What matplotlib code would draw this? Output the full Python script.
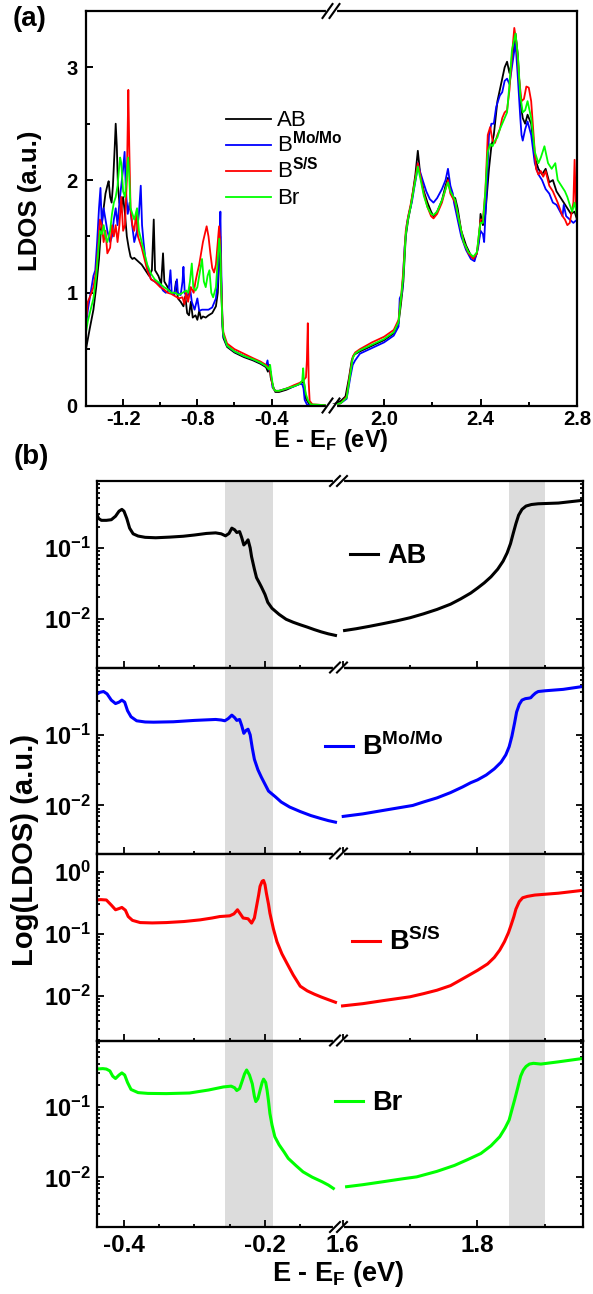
import numpy as np
import matplotlib
matplotlib.use('Agg')
import matplotlib.pyplot as plt
from matplotlib.lines import Line2D
from matplotlib.ticker import FixedLocator, FuncFormatter, NullFormatter, LogLocator

plt.rcParams['font.family'] = ['Liberation Sans', 'DejaVu Sans']
plt.rcParams['font.weight'] = 'bold'
plt.rcParams['mathtext.fontset'] = 'custom'
plt.rcParams['mathtext.rm'] = 'Liberation Sans'
plt.rcParams['mathtext.bf'] = 'Liberation Sans:bold'
plt.rcParams['mathtext.default'] = 'bf'

# ---------------- panel (a): LDOS, linear scale ----------------
ab_a = [(-1.40, 0.50), (-1.38, 0.68), (-1.36, 0.85), (-1.345, 1.05), (-1.33, 1.30), (-1.32, 1.55),
        (-1.305, 1.75), (-1.295, 1.88), (-1.285, 1.95), (-1.278, 1.99), (-1.27, 1.85), (-1.262, 1.80),
        (-1.255, 1.95), (-1.245, 2.30), (-1.24, 2.50), (-1.234, 2.30), (-1.228, 1.95), (-1.22, 1.80),
        (-1.21, 1.75), (-1.20, 1.85), (-1.19, 1.70), (-1.18, 1.50), (-1.17, 1.40), (-1.16, 1.32),
        (-1.15, 1.30), (-1.14, 1.31), (-1.12, 1.28), (-1.10, 1.25), (-1.08, 1.20), (-1.06, 1.15),
        (-1.045, 1.20), (-1.035, 1.65), (-1.028, 1.20), (-1.01, 1.15), (-0.995, 1.08), (-0.985, 1.35),
        (-0.978, 1.10), (-0.96, 1.05), (-0.94, 1.00), (-0.925, 0.98), (-0.915, 1.10), (-0.905, 0.95),
        (-0.89, 0.92), (-0.875, 0.88), (-0.865, 0.97), (-0.855, 0.82), (-0.845, 0.80), (-0.835, 0.92),
        (-0.825, 0.78), (-0.81, 0.80), (-0.80, 0.76), (-0.79, 0.84), (-0.78, 0.77), (-0.77, 0.79),
        (-0.755, 0.78), (-0.74, 0.80), (-0.72, 0.82), (-0.70, 0.88), (-0.69, 1.00), (-0.682, 1.30),
        (-0.677, 1.50), (-0.67, 1.00), (-0.665, 0.70), (-0.66, 0.60), (-0.64, 0.52), (-0.60, 0.47),
        (-0.55, 0.43), (-0.50, 0.40), (-0.46, 0.37), (-0.43, 0.34), (-0.42, 0.30), (-0.412, 0.36),
        (-0.405, 0.25), (-0.39, 0.16), (-0.38, 0.12), (-0.36, 0.12), (-0.32, 0.14), (-0.28, 0.17),
        (-0.25, 0.19), (-0.235, 0.21), (-0.225, 0.20), (-0.215, 0.06), (-0.20, 0.02), (-0.18, 0.00),
        (-0.08, 0.00),
        (1.78, 0.00), (1.80, 0.02), (1.82, 0.04), (1.84, 0.08), (1.855, 0.25), (1.866, 0.40),
        (1.875, 0.45), (1.90, 0.48), (1.95, 0.53), (2.00, 0.58), (2.04, 0.64), (2.06, 0.73),
        (2.07, 0.90), (2.08, 1.10), (2.09, 1.50), (2.10, 1.65), (2.11, 1.76), (2.12, 1.90),
        (2.13, 2.05), (2.14, 2.26), (2.15, 2.05), (2.165, 1.90), (2.18, 1.80), (2.195, 1.72),
        (2.205, 1.68), (2.22, 1.72), (2.24, 1.82), (2.255, 1.95), (2.265, 2.02), (2.275, 1.90),
        (2.285, 1.85), (2.295, 1.84), (2.305, 1.75), (2.32, 1.55), (2.34, 1.42), (2.36, 1.33),
        (2.375, 1.30), (2.385, 1.35), (2.395, 1.50), (2.40, 1.70), (2.41, 1.60), (2.42, 1.70),
        (2.435, 2.10), (2.445, 2.30), (2.455, 2.40), (2.47, 2.70), (2.485, 2.85), (2.50, 3.00),
        (2.51, 3.05), (2.52, 2.95), (2.53, 3.05), (2.545, 3.30), (2.555, 3.10), (2.565, 2.70),
        (2.575, 2.55), (2.585, 2.50), (2.595, 2.58), (2.61, 2.50), (2.625, 2.20), (2.64, 2.10),
        (2.655, 2.05), (2.67, 2.10), (2.685, 1.98), (2.70, 2.00), (2.715, 1.90), (2.73, 1.85),
        (2.745, 1.80), (2.76, 1.75), (2.775, 1.70), (2.79, 1.72), (2.80, 1.65)]

bmo_a = [(-1.40, 0.70), (-1.39, 0.85), (-1.375, 1.00), (-1.36, 1.15), (-1.35, 1.20), (-1.34, 1.45),
         (-1.33, 1.75), (-1.322, 1.93), (-1.315, 1.60), (-1.305, 1.75), (-1.295, 1.65), (-1.285, 1.55),
         (-1.27, 1.45), (-1.26, 1.50), (-1.25, 1.65), (-1.24, 1.75), (-1.23, 1.60), (-1.22, 1.80),
         (-1.21, 1.95), (-1.20, 2.10), (-1.192, 2.25), (-1.185, 1.90), (-1.175, 1.70), (-1.165, 1.80),
         (-1.155, 1.65), (-1.14, 1.45), (-1.125, 1.55), (-1.115, 1.70), (-1.105, 1.95), (-1.098, 1.60),
         (-1.09, 1.45), (-1.08, 1.30), (-1.065, 1.20), (-1.05, 1.12), (-1.03, 1.10), (-1.01, 1.08),
         (-0.995, 1.05), (-0.985, 1.02), (-0.97, 1.00), (-0.955, 1.02), (-0.945, 1.20), (-0.938, 1.00),
         (-0.925, 0.98), (-0.91, 1.12), (-0.905, 1.00), (-0.89, 0.98), (-0.88, 1.10), (-0.875, 1.23),
         (-0.868, 1.00), (-0.855, 0.95), (-0.84, 1.05), (-0.83, 0.92), (-0.815, 0.85), (-0.80, 0.95),
         (-0.79, 0.84), (-0.775, 0.85), (-0.76, 0.85), (-0.74, 0.85), (-0.72, 0.87), (-0.70, 0.95),
         (-0.69, 1.10), (-0.682, 1.40), (-0.676, 1.72), (-0.67, 1.10), (-0.665, 0.75), (-0.66, 0.62),
         (-0.64, 0.53), (-0.60, 0.48), (-0.55, 0.44), (-0.50, 0.41), (-0.46, 0.38), (-0.43, 0.35),
         (-0.422, 0.40), (-0.415, 0.32), (-0.405, 0.30), (-0.395, 0.16), (-0.38, 0.13), (-0.36, 0.13),
         (-0.32, 0.15), (-0.28, 0.17), (-0.25, 0.19), (-0.235, 0.19), (-0.228, 0.15), (-0.222, 0.05),
         (-0.21, 0.01), (-0.19, 0.00), (-0.08, 0.00),
         (1.78, 0.00), (1.82, 0.02), (1.845, 0.06), (1.86, 0.25), (1.87, 0.36), (1.88, 0.40),
         (1.90, 0.46), (1.95, 0.51), (2.00, 0.56), (2.04, 0.62), (2.06, 0.70), (2.065, 0.95),
         (2.075, 1.00), (2.085, 1.40), (2.095, 1.62), (2.105, 1.72), (2.115, 1.80), (2.125, 1.93),
         (2.135, 2.05), (2.14, 2.15), (2.15, 2.07), (2.16, 2.00), (2.175, 1.90), (2.19, 1.83),
         (2.205, 1.80), (2.22, 1.84), (2.24, 1.92), (2.255, 2.00), (2.265, 2.10), (2.275, 1.95),
         (2.285, 1.88), (2.29, 1.80), (2.30, 1.70), (2.32, 1.50), (2.34, 1.38), (2.36, 1.30),
         (2.375, 1.28), (2.39, 1.40), (2.40, 1.55), (2.41, 1.52), (2.415, 1.45), (2.425, 1.90),
         (2.435, 2.40), (2.445, 2.50), (2.455, 2.50), (2.465, 2.65), (2.48, 2.75), (2.49, 2.78),
         (2.50, 2.88), (2.51, 2.90), (2.52, 2.85), (2.53, 3.00), (2.545, 3.22), (2.555, 2.90),
         (2.565, 2.55), (2.57, 2.40), (2.575, 2.35), (2.585, 2.45), (2.595, 2.52), (2.61, 2.40),
         (2.625, 2.15), (2.64, 2.05), (2.655, 2.00), (2.67, 1.92), (2.685, 1.88), (2.70, 1.80),
         (2.715, 1.78), (2.73, 1.72), (2.74, 1.68), (2.745, 1.78), (2.755, 1.68), (2.77, 1.65),
         (2.785, 1.62), (2.80, 1.65)]

bss_a = [(-1.40, 0.75), (-1.39, 0.92), (-1.375, 0.98), (-1.36, 1.05), (-1.345, 1.20), (-1.335, 1.40),
         (-1.325, 1.65), (-1.315, 1.60), (-1.305, 1.45), (-1.295, 1.55), (-1.285, 1.35), (-1.27, 1.40),
         (-1.26, 1.60), (-1.25, 1.50), (-1.24, 1.60), (-1.23, 1.45), (-1.22, 1.60), (-1.21, 1.85),
         (-1.20, 1.55), (-1.19, 1.60), (-1.18, 2.00), (-1.175, 2.50), (-1.172, 2.80), (-1.167, 2.30),
         (-1.16, 1.75), (-1.15, 1.60), (-1.14, 1.55), (-1.13, 1.70), (-1.12, 1.50), (-1.11, 1.45),
         (-1.10, 1.40), (-1.085, 1.30), (-1.07, 1.20), (-1.05, 1.12), (-1.03, 1.10), (-1.00, 1.05),
         (-0.98, 1.03), (-0.96, 1.00), (-0.94, 0.99), (-0.92, 0.97), (-0.90, 0.95), (-0.88, 0.96),
         (-0.87, 0.90), (-0.86, 1.00), (-0.85, 0.92), (-0.835, 1.05), (-0.82, 1.00), (-0.81, 1.10),
         (-0.80, 1.18), (-0.79, 1.25), (-0.78, 1.35), (-0.77, 1.45), (-0.76, 1.52), (-0.75, 1.59),
         (-0.74, 1.50), (-0.73, 1.35), (-0.72, 1.22), (-0.71, 1.18), (-0.70, 1.25), (-0.69, 1.45),
         (-0.683, 1.59), (-0.677, 1.45), (-0.67, 1.00), (-0.665, 0.78), (-0.66, 0.65), (-0.64, 0.55),
         (-0.60, 0.50), (-0.55, 0.46), (-0.50, 0.42), (-0.46, 0.39), (-0.43, 0.36), (-0.41, 0.33),
         (-0.40, 0.22), (-0.39, 0.15), (-0.38, 0.13), (-0.36, 0.13), (-0.32, 0.15), (-0.28, 0.18),
         (-0.25, 0.20), (-0.23, 0.22), (-0.215, 0.25), (-0.21, 0.40), (-0.205, 0.73), (-0.20, 0.20),
         (-0.195, 0.04), (-0.18, 0.01), (-0.08, 0.00),
         (1.78, 0.00), (1.82, 0.02), (1.845, 0.08), (1.86, 0.30), (1.87, 0.43), (1.88, 0.47),
         (1.90, 0.50), (1.95, 0.56), (2.00, 0.61), (2.04, 0.67), (2.06, 0.76), (2.07, 0.95),
         (2.08, 1.20), (2.09, 1.55), (2.10, 1.68), (2.11, 1.78), (2.12, 1.90), (2.13, 2.02),
         (2.14, 2.15), (2.15, 2.05), (2.165, 1.88), (2.18, 1.76), (2.195, 1.68), (2.205, 1.66),
         (2.22, 1.70), (2.24, 1.80), (2.255, 1.92), (2.265, 2.00), (2.275, 1.88), (2.285, 1.84),
         (2.295, 1.80), (2.31, 1.65), (2.33, 1.45), (2.35, 1.35), (2.37, 1.30), (2.385, 1.35),
         (2.395, 1.55), (2.40, 1.65), (2.41, 1.65), (2.42, 1.90), (2.43, 2.40), (2.44, 2.47),
         (2.45, 2.35), (2.46, 2.33), (2.47, 2.40), (2.48, 2.45), (2.49, 2.55), (2.50, 2.60),
         (2.51, 2.62), (2.52, 2.80), (2.53, 3.10), (2.54, 3.35), (2.55, 3.20), (2.56, 2.90),
         (2.57, 2.70), (2.58, 2.72), (2.59, 2.83), (2.60, 2.82), (2.61, 2.70), (2.62, 2.40),
         (2.63, 2.10), (2.64, 2.05), (2.65, 2.08), (2.66, 2.03), (2.67, 2.08), (2.685, 1.95),
         (2.70, 1.90), (2.72, 1.80), (2.74, 1.68), (2.75, 1.65), (2.76, 1.60), (2.77, 1.62),
         (2.785, 1.80), (2.79, 2.18), (2.795, 1.80), (2.80, 1.70)]

br_a = [(-1.40, 0.65), (-1.39, 0.75), (-1.375, 0.85), (-1.36, 0.95), (-1.345, 1.15), (-1.335, 1.35),
        (-1.325, 1.55), (-1.315, 1.52), (-1.305, 1.60), (-1.295, 1.50), (-1.285, 1.45), (-1.27, 1.55),
        (-1.26, 1.70), (-1.25, 1.80), (-1.24, 1.85), (-1.23, 1.95), (-1.222, 2.10), (-1.216, 2.20),
        (-1.21, 2.15), (-1.20, 1.90), (-1.19, 1.85), (-1.18, 2.05), (-1.173, 2.20), (-1.166, 2.00),
        (-1.16, 1.75), (-1.15, 1.70), (-1.14, 1.65), (-1.125, 1.75), (-1.115, 1.55), (-1.10, 1.45),
        (-1.085, 1.35), (-1.07, 1.25), (-1.05, 1.17), (-1.03, 1.12), (-1.00, 1.08), (-0.98, 1.05),
        (-0.96, 1.03), (-0.94, 1.00), (-0.92, 1.00), (-0.90, 0.98), (-0.88, 1.00), (-0.86, 1.02),
        (-0.85, 1.00), (-0.84, 1.10), (-0.83, 1.26), (-0.822, 1.05), (-0.81, 1.02), (-0.80, 1.05),
        (-0.79, 1.15), (-0.775, 1.30), (-0.765, 1.10), (-0.755, 1.05), (-0.745, 1.15), (-0.735, 1.20),
        (-0.725, 1.00), (-0.715, 0.96), (-0.70, 1.05), (-0.69, 1.30), (-0.682, 1.48), (-0.676, 1.35),
        (-0.67, 0.95), (-0.665, 0.75), (-0.66, 0.63), (-0.64, 0.53), (-0.60, 0.48), (-0.55, 0.44),
        (-0.50, 0.41), (-0.46, 0.38), (-0.43, 0.35), (-0.415, 0.32), (-0.408, 0.36), (-0.40, 0.25),
        (-0.39, 0.15), (-0.38, 0.13), (-0.36, 0.13), (-0.32, 0.15), (-0.28, 0.17), (-0.25, 0.19),
        (-0.235, 0.22), (-0.23, 0.33), (-0.225, 0.20), (-0.215, 0.10), (-0.205, 0.05), (-0.19, 0.01),
        (-0.08, 0.00),
        (1.78, 0.00), (1.82, 0.02), (1.845, 0.07), (1.86, 0.28), (1.87, 0.42), (1.88, 0.46),
        (1.90, 0.49), (1.95, 0.54), (2.00, 0.59), (2.04, 0.65), (2.06, 0.74), (2.07, 0.95),
        (2.08, 1.15), (2.09, 1.52), (2.10, 1.66), (2.11, 1.76), (2.12, 1.88), (2.13, 2.00),
        (2.14, 2.12), (2.15, 2.02), (2.165, 1.86), (2.18, 1.76), (2.195, 1.70), (2.205, 1.69),
        (2.22, 1.72), (2.24, 1.82), (2.255, 1.92), (2.265, 1.98), (2.275, 1.90), (2.285, 1.86),
        (2.295, 1.82), (2.31, 1.65), (2.33, 1.45), (2.35, 1.36), (2.37, 1.32), (2.385, 1.36),
        (2.395, 1.55), (2.40, 1.62), (2.41, 1.62), (2.42, 1.90), (2.43, 2.25), (2.44, 2.32),
        (2.45, 2.30), (2.46, 2.35), (2.47, 2.38), (2.48, 2.45), (2.49, 2.50), (2.50, 2.55),
        (2.51, 2.60), (2.52, 2.85), (2.53, 3.15), (2.545, 3.30), (2.555, 3.10), (2.565, 2.75),
        (2.575, 2.60), (2.585, 2.62), (2.595, 2.70), (2.61, 2.55), (2.625, 2.25), (2.64, 2.15),
        (2.65, 2.20), (2.665, 2.30), (2.68, 2.15), (2.695, 2.10), (2.71, 2.15), (2.72, 2.00),
        (2.735, 1.95), (2.75, 1.90), (2.76, 1.85), (2.77, 1.78), (2.78, 1.72), (2.79, 1.80),
        (2.80, 1.68)]

# ---------------- panel (b): LDOS near the gap, log scale ----------------
ab_b = [(-0.44, 0.32), (-0.436, 0.26), (-0.432, 0.245), (-0.425, 0.245), (-0.418, 0.25), (-0.412, 0.28),
        (-0.407, 0.33), (-0.403, 0.35), (-0.400, 0.33), (-0.396, 0.26), (-0.392, 0.19), (-0.387, 0.158),
        (-0.380, 0.147), (-0.370, 0.141), (-0.355, 0.139), (-0.335, 0.142), (-0.316, 0.146), (-0.30, 0.152),
        (-0.283, 0.160), (-0.27, 0.163), (-0.262, 0.158), (-0.256, 0.148), (-0.251, 0.160), (-0.247, 0.19),
        (-0.243, 0.18), (-0.240, 0.165), (-0.236, 0.17), (-0.233, 0.14), (-0.230, 0.11), (-0.227, 0.118),
        (-0.224, 0.13), (-0.221, 0.10), (-0.219, 0.075), (-0.215, 0.050), (-0.212, 0.038), (-0.208, 0.032),
        (-0.205, 0.028), (-0.200, 0.022), (-0.196, 0.017), (-0.19, 0.014), (-0.18, 0.0115), (-0.17, 0.0098),
        (-0.16, 0.0089), (-0.15, 0.0082), (-0.14, 0.0076), (-0.13, 0.0070), (-0.12, 0.0065), (-0.11, 0.0061),
        (-0.10, 0.0058),
        (1.603, 0.0068), (1.62, 0.0072), (1.64, 0.0078), (1.66, 0.0085), (1.68, 0.0093), (1.70, 0.0103),
        (1.72, 0.0117), (1.74, 0.0135), (1.76, 0.016), (1.775, 0.019), (1.79, 0.023), (1.80, 0.027),
        (1.81, 0.032), (1.82, 0.039), (1.83, 0.050), (1.838, 0.065), (1.844, 0.085), (1.849, 0.115),
        (1.853, 0.16), (1.857, 0.22), (1.861, 0.29), (1.866, 0.35), (1.872, 0.39), (1.88, 0.41),
        (1.89, 0.42), (1.92, 0.43), (1.956, 0.47)]

bmo_b = [(-0.44, 0.37), (-0.434, 0.40), (-0.429, 0.41), (-0.424, 0.38), (-0.418, 0.31), (-0.412, 0.277),
         (-0.407, 0.29), (-0.403, 0.31), (-0.399, 0.29), (-0.395, 0.22), (-0.39, 0.18), (-0.382, 0.158),
         (-0.37, 0.152), (-0.358, 0.151), (-0.33, 0.153), (-0.30, 0.16), (-0.27, 0.165), (-0.262, 0.162),
         (-0.257, 0.158), (-0.252, 0.17), (-0.247, 0.19), (-0.243, 0.175), (-0.240, 0.16), (-0.236, 0.165),
         (-0.233, 0.135), (-0.230, 0.105), (-0.227, 0.115), (-0.224, 0.12), (-0.221, 0.10), (-0.218, 0.065),
         (-0.215, 0.045), (-0.21, 0.032), (-0.205, 0.025), (-0.20, 0.020), (-0.195, 0.016), (-0.185, 0.0132),
         (-0.177, 0.0112), (-0.165, 0.0095), (-0.15, 0.0082), (-0.135, 0.0072), (-0.12, 0.0065),
         (-0.11, 0.0061), (-0.10, 0.0058),
         (1.601, 0.0070), (1.63, 0.0076), (1.66, 0.0085), (1.69, 0.0095), (1.704, 0.010), (1.72, 0.0112),
         (1.74, 0.0128), (1.76, 0.0152), (1.778, 0.0183), (1.79, 0.021), (1.80, 0.023), (1.813, 0.027),
         (1.825, 0.033), (1.835, 0.041), (1.842, 0.052), (1.847, 0.068), (1.851, 0.095), (1.855, 0.147),
         (1.858, 0.21), (1.862, 0.27), (1.866, 0.31), (1.871, 0.325), (1.876, 0.33), (1.879, 0.335),
         (1.882, 0.36), (1.886, 0.39), (1.89, 0.41), (1.90, 0.42), (1.927, 0.44), (1.954, 0.48)]

bss_b = [(-0.44, 0.35), (-0.433, 0.355), (-0.425, 0.35), (-0.418, 0.29), (-0.412, 0.244), (-0.407, 0.255),
         (-0.403, 0.266), (-0.398, 0.24), (-0.394, 0.19), (-0.388, 0.165), (-0.377, 0.152), (-0.36, 0.150),
         (-0.34, 0.152), (-0.315, 0.158), (-0.292, 0.168), (-0.275, 0.18), (-0.264, 0.19), (-0.25, 0.195),
         (-0.244, 0.21), (-0.239, 0.244), (-0.235, 0.21), (-0.231, 0.18), (-0.224, 0.175), (-0.219, 0.149),
         (-0.215, 0.18), (-0.212, 0.275), (-0.209, 0.42), (-0.207, 0.58), (-0.204, 0.70), (-0.202, 0.72),
         (-0.200, 0.62), (-0.198, 0.45), (-0.195, 0.30), (-0.193, 0.215), (-0.188, 0.12), (-0.183, 0.075),
         (-0.176, 0.048), (-0.169, 0.034), (-0.16, 0.022), (-0.15, 0.0145), (-0.14, 0.0122), (-0.13, 0.0108),
         (-0.12, 0.0097), (-0.11, 0.0088), (-0.10, 0.0080),
         (1.60, 0.0070), (1.63, 0.0076), (1.66, 0.0085), (1.70, 0.0098), (1.72, 0.011), (1.74, 0.0125),
         (1.76, 0.0148), (1.77, 0.017), (1.785, 0.021), (1.80, 0.026), (1.815, 0.033), (1.825, 0.042),
         (1.833, 0.055), (1.84, 0.075), (1.846, 0.105), (1.85, 0.14), (1.854, 0.19), (1.857, 0.25),
         (1.862, 0.33), (1.867, 0.38), (1.874, 0.40), (1.885, 0.42), (1.92, 0.45), (1.956, 0.50)]

br_b = [(-0.44, 0.34), (-0.43, 0.345), (-0.425, 0.34), (-0.42, 0.32), (-0.416, 0.27), (-0.412, 0.25),
        (-0.407, 0.28), (-0.403, 0.30), (-0.399, 0.28), (-0.395, 0.22), (-0.39, 0.175), (-0.38, 0.158),
        (-0.366, 0.154), (-0.34, 0.153), (-0.307, 0.156), (-0.28, 0.172), (-0.259, 0.19), (-0.248, 0.195),
        (-0.243, 0.185), (-0.240, 0.169), (-0.236, 0.18), (-0.233, 0.22), (-0.229, 0.29), (-0.226, 0.33),
        (-0.222, 0.28), (-0.218, 0.21), (-0.215, 0.14), (-0.213, 0.118), (-0.210, 0.13), (-0.207, 0.17),
        (-0.204, 0.22), (-0.202, 0.245), (-0.199, 0.22), (-0.197, 0.17), (-0.195, 0.12), (-0.193, 0.08),
        (-0.19, 0.055), (-0.186, 0.0376), (-0.18, 0.029), (-0.173, 0.023), (-0.167, 0.0186),
        (-0.156, 0.0147), (-0.146, 0.012), (-0.133, 0.0101), (-0.119, 0.0087), (-0.11, 0.0078),
        (-0.103, 0.0070),
        (1.606, 0.0074), (1.63, 0.0079), (1.66, 0.0087), (1.69, 0.0096), (1.71, 0.0102), (1.74, 0.0122),
        (1.766, 0.0148), (1.785, 0.0178), (1.805, 0.0218), (1.82, 0.028), (1.833, 0.0376), (1.841, 0.050),
        (1.847, 0.065), (1.851, 0.09), (1.855, 0.124), (1.86, 0.19), (1.864, 0.27), (1.868, 0.33),
        (1.872, 0.37), (1.877, 0.40), (1.883, 0.41), (1.894, 0.40), (1.92, 0.43), (1.956, 0.48)]

names = ['AB', 'B$^{Mo/Mo}$', 'B$^{S/S}$', 'Br']
names_a = ['AB', r'B$^{\mathrm{Mo/Mo}}$', r'B$^{\mathrm{S/S}}$', 'Br']
colors = ['black', '#0000ff', '#ff0000', '#00ff00']
gap_spans = [(-0.257, -0.188), (1.847, 1.90)]

W, H = 593, 1294
fig = plt.figure(figsize=(W / 100, H / 100), dpi=100)


def px_axes(x0, y0, x1, y1):
    ax = fig.add_axes([x0 / W, 1 - y1 / H, (x1 - x0) / W, (y1 - y0) / H])
    ax.patch.set_alpha(0)
    return ax


def break_marks(xc, yc, dx=5, dy=7, sep=7):
    fig.add_artist(Line2D([(xc - sep / 2) / W, (xc + sep / 2) / W], [1 - yc / H] * 2,
                          color='white', lw=3, transform=fig.transFigure))
    for off in (-sep / 2, sep / 2):
        fig.add_artist(Line2D([(xc + off - dx) / W, (xc + off + dx) / W],
                              [1 - (yc + dy) / H, 1 - (yc - dy) / H],
                              color='black', lw=1.5, transform=fig.transFigure))


def split(points):
    e = np.array([p[0] for p in points])
    v = np.array([p[1] for p in points])
    return e, v


# ---- panel (a)
axa_l = px_axes(86, 11, 331, 405.5)
axa_r = px_axes(331, 11, 577, 405.5)
for ax in (axa_l, axa_r):
    for pts, c in zip([ab_a, bmo_a, bss_a, br_a], colors):
        e, v = split(pts)
        m = e < 0 if ax is axa_l else e > 1
        ax.plot(e[m], v[m], color=c, lw=1.3)
    ax.set_ylim(0, 3.5)
    for s in ax.spines.values():
        s.set_linewidth(1.6)
    ax.tick_params(which='both', direction='in', width=1.4, labelsize=14.5, pad=3)
    ax.tick_params(which='major', length=5)
    ax.tick_params(which='minor', length=3)

axa_l.set_xlim(-1.4, -0.08)
axa_l.spines['right'].set_visible(False)
axa_l.xaxis.set_major_locator(FixedLocator([-1.2, -0.8, -0.4]))
axa_l.xaxis.set_minor_locator(FixedLocator([-1.0, -0.6, -0.2]))
axa_l.set_xticklabels(['-1.2', '-0.8', '-0.4'])
axa_l.yaxis.set_major_locator(FixedLocator([0, 1, 2, 3]))
axa_l.yaxis.set_minor_locator(FixedLocator([0.5, 1.5, 2.5]))
axa_l.set_yticklabels(['0', '1', '2', '3'])
axa_l.tick_params(axis='y', pad=6)

axa_r.set_xlim(1.78, 2.8)
axa_r.spines['left'].set_visible(False)
axa_r.xaxis.set_major_locator(FixedLocator([2.0, 2.4, 2.8]))
axa_r.xaxis.set_minor_locator(FixedLocator([2.2, 2.6]))
axa_r.set_xticklabels(['2.0', '2.4', '2.8'])
axa_r.set_yticks([])
axa_r.yaxis.set_minor_locator(FixedLocator([]))

# legend of panel (a), one row per curve
for y, c, lab in zip([119, 145, 171, 197], colors, names_a):
    fig.add_artist(Line2D([226 / W, 271 / W], [1 - y / H] * 2, color=c, lw=1.3))
    fig.text(277 / W, 1 - (y + 7.5) / H, lab, ha='left', va='baseline', fontsize=16, weight='normal')

break_marks(331, 11)
break_marks(331, 405.5)
fig.text(331 / W, 1 - 441 / H, 'E - E$_F$ (eV)', ha='center', va='center', fontsize=17)
fig.text(30 / W, 1 - 201 / H, 'LDOS (a.u.)', ha='center', va='center', rotation=90, fontsize=18.5)
fig.text(30 / W, 1 - 19 / H, '(a)', ha='center', va='center', fontsize=20)

# ---- panel (b)
rows = [481, 667.5, 853.5, 1040.5, 1227]
ylims = [(10 ** -2.69, 10 ** -0.055), (10 ** -2.68, 10 ** -0.047),
         (10 ** -2.71, 10 ** 0.29), (10 ** -2.70, 10 ** -0.065)]
legend_pos = [(350, 556), (325, 747), (352, 942), (335, 1103)]
log_fmt = FuncFormatter(lambda v, p: r'$10^{%d}$' % int(round(np.log10(v))))

for i, pts in enumerate([ab_b, bmo_b, bss_b, br_b]):
    top, bot = rows[i], rows[i + 1]
    bl = px_axes(96.7, top, 338.5, bot)
    br = px_axes(338.5, top, 582.7, bot)
    e, v = split(pts)
    for ax, m in ((bl, e < 0), (br, e > 1)):
        ax.set_yscale('log')
        ax.set_ylim(*ylims[i])
        line, = ax.plot(e[m], v[m], color=colors[i], lw=2.2)
        for s in ax.spines.values():
            s.set_linewidth(1.6)
        ax.tick_params(which='both', direction='in', width=1.3, labelsize=17.5, pad=5)
        ax.tick_params(which='major', length=5)
        ax.tick_params(which='minor', length=2.5)
        ax.yaxis.set_minor_locator(LogLocator(base=10, subs=np.arange(2, 10)))
        ax.yaxis.set_minor_formatter(NullFormatter())
    bl.axvspan(*gap_spans[0], color='#dcdcdc', lw=0, zorder=0)
    br.axvspan(*gap_spans[1], color='#dcdcdc', lw=0, zorder=0)

    bl.set_xlim(-0.4387, -0.0957)
    bl.spines['right'].set_visible(False)
    bl.xaxis.set_major_locator(FixedLocator([-0.4, -0.2]))
    bl.xaxis.set_minor_locator(FixedLocator([-0.35, -0.3, -0.25, -0.15]))
    bl.yaxis.set_major_locator(LogLocator(base=10))
    bl.yaxis.set_major_formatter(log_fmt)
    bl.tick_params(axis='y', labelsize=17, pad=4)

    br.set_xlim(1.594, 1.956)
    br.spines['left'].set_visible(False)
    br.xaxis.set_major_locator(FixedLocator([1.6, 1.8]))
    br.xaxis.set_minor_locator(FixedLocator([1.7, 1.9]))
    br.yaxis.tick_right()
    br.yaxis.set_major_formatter(NullFormatter())

    if i == 3:
        bl.set_xticklabels(['-0.4', '-0.2'])
        br.set_xticklabels(['1.6', '1.8'])
    else:
        bl.set_xticklabels([])
        br.set_xticklabels([])

    lx, ly = legend_pos[i]
    br.legend([line], [names[i]], loc='center left', bbox_to_anchor=(lx / W, 1 - ly / H),
              bbox_transform=fig.transFigure, frameon=False, borderpad=0, borderaxespad=0,
              handlelength=1.05, handletextpad=0.33, prop={'weight': 'bold', 'size': 19.5})

    break_marks(338.5, top, dx=5, dy=5)
break_marks(338.5, rows[-1], dx=5, dy=5)

fig.text(338 / W, 1 - 1274 / H, 'E - E$_F$ (eV)', ha='center', va='center', fontsize=19.5)
fig.text(25 / W, 1 - 850 / H, 'Log(LDOS) (a.u.)', ha='center', va='center', rotation=90, fontsize=21)
fig.text(31 / W, 1 - 457 / H, '(b)', ha='center', va='center', fontsize=20)

fig.savefig('out.png', dpi=100)
